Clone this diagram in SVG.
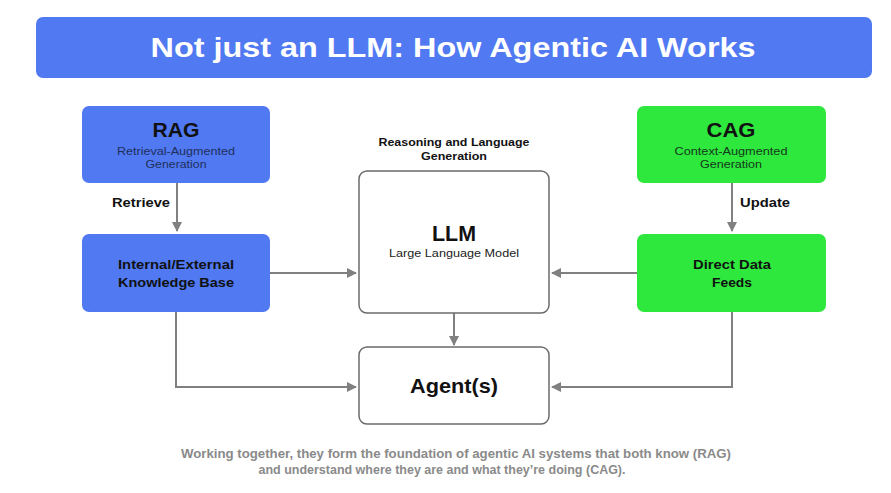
<svg xmlns="http://www.w3.org/2000/svg" width="891" height="493" viewBox="0 0 891 493">
<style>
text{font-family:"Liberation Sans",Arial,sans-serif;text-anchor:middle}
.blue{fill:#5079F2}
.green{fill:#2EE83E}
.white{fill:#fff;stroke:#6b6b6b;stroke-width:1.5}
.h{font-weight:bold;fill:#111}
.sub{font-size:11px;fill:#1f2f5c}
.subg{font-size:11px;fill:#14391a}
.conn{fill:none;stroke:#808080;stroke-width:2}
.lbl{font-size:13px;font-weight:bold;fill:#111;text-anchor:start}
</style>
<defs>
<marker id="ah" viewBox="0 0 10 10" refX="9" refY="5" markerWidth="5" markerHeight="5" orient="auto" markerUnits="strokeWidth">
<path d="M0,0L10,5L0,10z" fill="#808080"/>
</marker>
</defs>
<rect width="891" height="493" fill="#fff"/>
<g id="title">
<rect x="36" y="17" width="836" height="61" rx="7" class="blue"/>
<text x="453" y="57" font-size="28" font-weight="bold" fill="#fff" textLength="605" lengthAdjust="spacingAndGlyphs">Not just an LLM: How Agentic AI Works</text>
</g>
<g id="connectors">
<line x1="177" y1="183" x2="177" y2="231" class="conn" marker-end="url(#ah)"/>
<line x1="732" y1="183" x2="732" y2="231" class="conn" marker-end="url(#ah)"/>
<line x1="270" y1="273" x2="356" y2="273" class="conn" marker-end="url(#ah)"/>
<line x1="637" y1="273" x2="552" y2="273" class="conn" marker-end="url(#ah)"/>
<line x1="454" y1="313" x2="454" y2="345" class="conn" marker-end="url(#ah)"/>
<polyline points="176,312 176,387 356,387" class="conn" marker-end="url(#ah)"/>
<polyline points="732,312 732,387 552,387" class="conn" marker-end="url(#ah)"/>
<text x="112" y="207" class="lbl" textLength="58" lengthAdjust="spacingAndGlyphs">Retrieve</text>
<text x="740" y="207" class="lbl" textLength="50" lengthAdjust="spacingAndGlyphs">Update</text>
</g>
<g id="rag">
<rect x="82" y="106" width="188" height="77" rx="7" class="blue"/>
<text x="176" y="137" font-size="21" class="h" textLength="47" lengthAdjust="spacingAndGlyphs">RAG</text>
<text x="176" y="155" class="sub" textLength="118" lengthAdjust="spacingAndGlyphs">Retrieval-Augmented</text>
<text x="176" y="168" class="sub" textLength="61" lengthAdjust="spacingAndGlyphs">Generation</text>
</g>
<g id="kb">
<rect x="82" y="234" width="188" height="78" rx="7" class="blue"/>
<text x="176" y="269" font-size="13" class="h" textLength="116" lengthAdjust="spacingAndGlyphs">Internal/External</text>
<text x="176" y="287" font-size="13" class="h" textLength="116" lengthAdjust="spacingAndGlyphs">Knowledge Base</text>
</g>
<g id="cag">
<rect x="637" y="106" width="189" height="77" rx="7" class="green"/>
<text x="731" y="137" font-size="21" class="h" textLength="49" lengthAdjust="spacingAndGlyphs">CAG</text>
<text x="731" y="155" class="subg" textLength="113" lengthAdjust="spacingAndGlyphs">Context-Augmented</text>
<text x="731" y="168" class="subg" textLength="62" lengthAdjust="spacingAndGlyphs">Generation</text>
</g>
<g id="ddf">
<rect x="637" y="234" width="189" height="78" rx="7" class="green"/>
<text x="732" y="269" font-size="13" class="h" textLength="78" lengthAdjust="spacingAndGlyphs">Direct Data</text>
<text x="732" y="287" font-size="13" class="h" textLength="40" lengthAdjust="spacingAndGlyphs">Feeds</text>
</g>
<g id="llm">
<text x="454" y="146" font-size="11" class="h" textLength="151" lengthAdjust="spacingAndGlyphs">Reasoning and Language</text>
<text x="454" y="160" font-size="11" class="h" textLength="66" lengthAdjust="spacingAndGlyphs">Generation</text>
<rect x="359" y="171" width="190" height="142" rx="8" class="white"/>
<text x="454" y="241" font-size="22" class="h" textLength="44" lengthAdjust="spacingAndGlyphs">LLM</text>
<text x="454" y="257" font-size="11" fill="#222" textLength="130" lengthAdjust="spacingAndGlyphs">Large Language Model</text>
</g>
<g id="agent">
<rect x="359" y="347" width="190" height="77" rx="8" class="white"/>
<text x="454" y="393" font-size="21" class="h" textLength="88" lengthAdjust="spacingAndGlyphs">Agent(s)</text>
</g>
<g id="footer">
<text x="456" y="458" font-size="12" font-weight="bold" fill="#8a8a8a" textLength="550" lengthAdjust="spacingAndGlyphs">Working together, they form the foundation of agentic AI systems that both know (RAG)</text>
<text x="442" y="474" font-size="12" font-weight="bold" fill="#8a8a8a" textLength="367" lengthAdjust="spacingAndGlyphs">and understand where they are and what they’re doing (CAG).</text>
</g>
</svg>
